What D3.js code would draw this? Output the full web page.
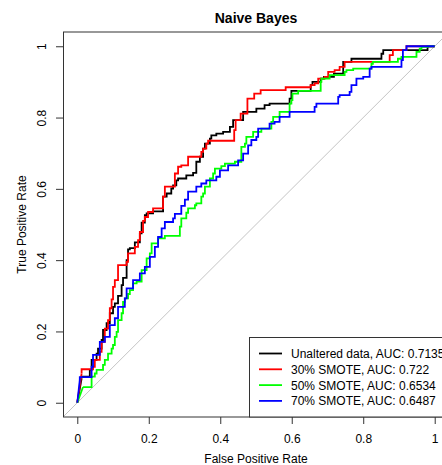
<!DOCTYPE html>
<html>
<head>
<meta charset="utf-8">
<script src="https://cdn.jsdelivr.net/npm/d3@7/dist/d3.min.js"></script>
<style>
  html, body { margin: 0; padding: 0; background: #fff; }
  svg { display: block; font-family: "Liberation Sans", Arial, sans-serif; }
</style>
</head>
<body>
<svg id="chart" width="442" height="465"></svg>
<script>
// ROC curves for the Naive Bayes classifier, [false positive rate, true positive rate]
const unaltered = [
  [0,0],[.012,.068],[.035,.073],[.040,.092],[.054,.120],[.058,.138],[.068,.152],[.072,.176],
  [.082,.204],[.091,.223],[.100,.251],[.105,.269],[.114,.279],[.124,.300],[.128,.330],[.138,.350],
  [.142,.400],[.147,.430],[.161,.434],[.175,.450],[.180,.475],[.189,.505],[.194,.526],[.212,.531],
  [.240,.537],[.250,.578],[.263,.587],[.268,.601],[.277,.610],[.282,.624],[.305,.629],[.324,.638],
  [.333,.645],[.343,.676],[.352,.690],[.357,.713],[.371,.727],[.375,.741],[.389,.750],[.408,.755],
  [.427,.760],[.436,.774],[.445,.793],[.464,.793],[.478,.816],[.501,.816],[.524,.825],[.538,.835],
  [.594,.839],[.599,.853],[.620,.875],[.653,.875],[.658,.891],[.681,.900],[.690,.909],[.718,.914],
  [.744,.923],[.767,.956],[.781,.965],[.851,.965],[.856,.979],[.883,.989],[.980,.989],[.985,1],[1,1]
];
const smote30 = [
  [0,0],[.012,.082],[.026,.094],[.044,.094],[.049,.101],[.063,.120],[.068,.143],[.077,.171],
  [.086,.208],[.091,.232],[.096,.265],[.100,.290],[.105,.325],[.114,.344],[.124,.386],[.138,.386],
  [.142,.395],[.161,.419],[.170,.437],[.175,.456],[.184,.479],[.189,.510],[.198,.521],[.212,.535],
  [.221,.545],[.240,.545],[.245,.578],[.250,.606],[.273,.606],[.282,.643],[.291,.662],[.310,.666],
  [.315,.690],[.347,.690],[.352,.704],[.361,.713],[.366,.727],[.399,.735],[.439,.735],[.443,.765],
  [.457,.793],[.476,.811],[.476,.839],[.495,.853],[.513,.867],[.527,.877],[.583,.877],[.588,.885],
  [.653,.885],[.664,.891],[.674,.896],[.692,.909],[.702,.914],[.720,.928],[.734,.933],[.748,.942],
  [.776,.956],[.874,.956],[.883,.975],[.893,.989],[.921,.989],[.925,1],[1,1]
];
const smote50 = [
  [0,0],[.016,.044],[.040,.044],[.049,.073],[.054,.082],[.072,.092],[.077,.106],[.086,.120],
  [.096,.138],[.100,.152],[.105,.162],[.110,.185],[.114,.199],[.124,.232],[.128,.251],[.133,.283],
  [.142,.293],[.147,.305],[.156,.316],[.166,.335],[.180,.340],[.194,.372],[.203,.405],[.208,.419],
  [.226,.447],[.245,.461],[.287,.468],[.291,.494],[.305,.517],[.310,.533],[.329,.545],[.333,.554],
  [.347,.559],[.352,.578],[.357,.587],[.371,.606],[.380,.629],[.385,.643],[.403,.657],[.413,.664],
  [.441,.671],[.459,.676],[.469,.718],[.473,.727],[.492,.746],[.515,.760],[.543,.769],[.548,.788],
  [.566,.802],[.594,.816],[.599,.839],[.602,.849],[.618,.867],[.622,.875],[.681,.875],[.683,.900],
  [.706,.909],[.716,.919],[.748,.919],[.753,.928],[.772,.933],[.823,.937],[.827,.951],[.832,.956],
  [.897,.956],[.907,.965],[.949,.970],[.958,.984],[.963,.993],[.981,.998],[1,1]
];
const smote70 = [
  [0,0],[.007,.064],[.012,.072],[.040,.072],[.044,.101],[.063,.134],[.077,.171],[.091,.185],
  [.105,.218],[.114,.237],[.133,.269],[.138,.293],[.156,.321],[.175,.344],[.189,.363],[.203,.381],
  [.217,.409],[.226,.437],[.236,.465],[.245,.489],[.268,.507],[.273,.517],[.291,.530],[.301,.552],
  [.310,.570],[.333,.592],[.347,.606],[.361,.615],[.389,.624],[.399,.634],[.422,.652],[.450,.666],
  [.464,.680],[.478,.699],[.487,.722],[.501,.737],[.506,.746],[.538,.769],[.552,.783],[.566,.788],
  [.594,.802],[.622,.816],[.664,.816],[.669,.830],[.688,.839],[.730,.839],[.734,.858],[.762,.863],
  [.767,.872],[.781,.891],[.800,.909],[.818,.914],[.823,.937],[.827,.942],[.907,.942],[.911,.961],
  [.921,.989],[.935,1],[1,1]
];

const seriesLabels = [
  "Unaltered data, AUC: 0.7135",
  "30% SMOTE, AUC: 0.722",
  "50% SMOTE, AUC: 0.6534",
  "70% SMOTE, AUC: 0.6487"
];
const seriesColors = ["#000000", "#ff0000", "#00ff00", "#0000ff"];
const axisTicks = [0, 0.2, 0.4, 0.6, 0.8, 1];
const axisTickLabels = ["0", "0.2", "0.4", "0.6", "0.8", "1"];

const chartTitle = "Naive Bayes";
const xTitle = "False Positive Rate";
const yTitle = "True Positive Rate";

const series = [unaltered, smote30, smote50, smote70];

// plot region (R-style 4% padding around [0, 1])
const pLeft = 63, pRight = 449, pTop = 32, pBottom = 417;
const x = d3.scaleLinear().domain([-0.04, 1.04]).range([pLeft, pRight]);
const y = d3.scaleLinear().domain([-0.04, 1.04]).range([pBottom, pTop]);

const svg = d3.select("#chart");

svg.append("defs").append("clipPath").attr("id", "plot-clip")
  .append("rect")
  .attr("x", pLeft).attr("y", pTop)
  .attr("width", pRight - pLeft).attr("height", pBottom - pTop);

const plot = svg.append("g").attr("clip-path", "url(#plot-clip)");

// chance diagonal
plot.append("line")
  .attr("x1", x(-0.04)).attr("y1", y(-0.04))
  .attr("x2", x(1.04)).attr("y2", y(1.04))
  .attr("stroke", "#c4c4c4").attr("stroke-width", 1);

const stepLine = d3.line()
  .x(d => x(d[0]))
  .y(d => y(d[1]))
  .curve(d3.curveStepBefore);
const straightLine = d3.line()
  .x(d => x(d[0]))
  .y(d => y(d[1]));

// first threshold jump is a straight segment from the origin, the rest is a staircase
series.forEach((pts, i) => {
  const g = plot.append("g")
    .attr("fill", "none")
    .attr("stroke", seriesColors[i])
    .attr("stroke-width", 1.8);
  g.append("path").datum(pts.slice(0, 2)).attr("d", straightLine);
  g.append("path").datum(pts.slice(1)).attr("d", stepLine);
});

// axes
const xAxis = d3.axisBottom(x)
  .tickValues(axisTicks)
  .tickFormat((d, i) => axisTickLabels[i])
  .tickSize(7)
  .tickPadding(10);
const gx = svg.append("g").attr("transform", `translate(0,${pBottom})`).call(xAxis);
gx.select(".domain").remove();
gx.selectAll(".tick line").attr("stroke", "#333");
gx.selectAll(".tick text")
  .attr("font-size", 12)
  .attr("font-family", "Liberation Sans, Arial, sans-serif")
  .attr("fill", "#000");

const yAxis = d3.axisLeft(y)
  .tickValues(axisTicks)
  .tickFormat((d, i) => axisTickLabels[i])
  .tickSize(7);
const gy = svg.append("g").attr("transform", `translate(${pLeft},0)`).call(yAxis);
gy.select(".domain").remove();
gy.selectAll(".tick line").attr("stroke", "#333");
gy.selectAll(".tick text")
  .attr("font-size", 12)
  .attr("font-family", "Liberation Sans, Arial, sans-serif")
  .attr("fill", "#000")
  .attr("x", null).attr("dy", null)
  .attr("text-anchor", "middle")
  .attr("transform", `translate(${46 - pLeft},0) rotate(-90)`);

// plot frame
svg.append("rect")
  .attr("x", pLeft + 0.5).attr("y", pTop)
  .attr("width", pRight - pLeft).attr("height", pBottom - pTop)
  .attr("fill", "none").attr("stroke", "#333").attr("stroke-width", 1);

// titles
svg.append("text")
  .attr("x", (pLeft + pRight) / 2).attr("y", 23)
  .attr("text-anchor", "middle")
  .attr("font-size", 14).attr("font-weight", "bold")
  .text(chartTitle);

svg.append("text")
  .attr("x", (pLeft + pRight) / 2).attr("y", 462.5)
  .attr("text-anchor", "middle")
  .attr("font-size", 12)
  .text(xTitle);

svg.append("text")
  .attr("transform", `translate(25.5,${(pTop + pBottom) / 2}) rotate(-90)`)
  .attr("text-anchor", "middle")
  .attr("font-size", 12)
  .text(yTitle);

// legend, anchored to the bottom-right corner of the plot
const legend = svg.append("g");
const legLeft = 249.5, legTop = 337.5, rowStep = 15.8, firstRow = 353.5;
legend.append("rect")
  .attr("x", legLeft).attr("y", legTop)
  .attr("width", pRight - legLeft).attr("height", pBottom - legTop)
  .attr("fill", "#fff").attr("stroke", "#333").attr("stroke-width", 1);

seriesLabels.forEach((label, i) => {
  const cy = firstRow + i * rowStep;
  legend.append("line")
    .attr("x1", 259).attr("x2", 282)
    .attr("y1", cy).attr("y2", cy)
    .attr("stroke", seriesColors[i]).attr("stroke-width", 1.8);
  legend.append("text")
    .attr("x", 291).attr("y", cy + 4.4)
    .attr("font-size", 12)
    .attr("fill", "#000")
    .text(label);
});
</script>
</body>
</html>
